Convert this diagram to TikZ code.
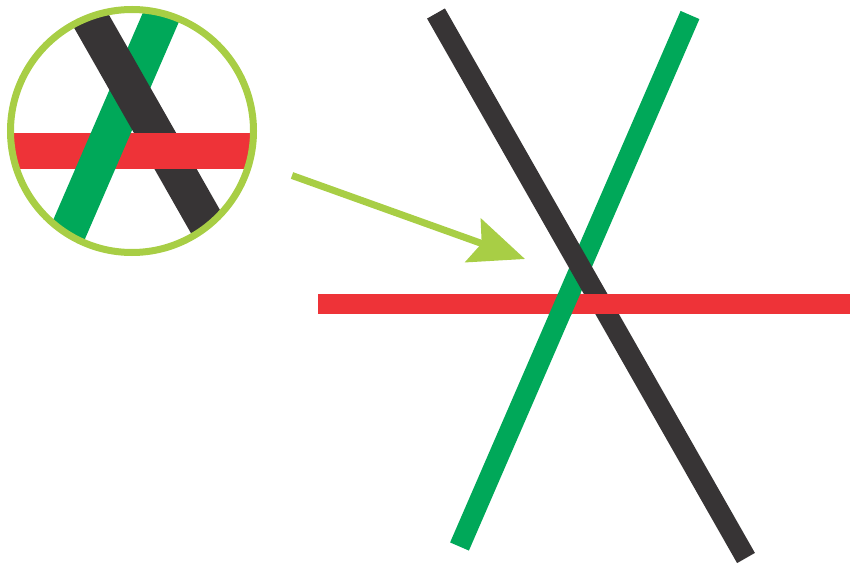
\documentclass[tikz,border=0pt]{standalone}
\usetikzlibrary{arrows.meta}
\definecolor{stickgray}{HTML}{373435}
\definecolor{stickgreen}{HTML}{00A859}
\definecolor{stickred}{HTML}{EE3338}
\definecolor{lensgreen}{HTML}{A8CE45}

\begin{document}
\begin{tikzpicture}[
    x=1pt, y=-1pt,
    bigstick/.style={line width=20.5pt},
    smallstick/.style={line width=36.7pt},
    lens/.style={draw=lensgreen, line width=7pt},
    pointer/.style={-{Stealth[length=55pt, width=46pt, inset=9pt]}, draw=lensgreen, fill=lensgreen, line width=7pt}
]
\useasboundingbox (0,0) rectangle (850,564);

% large view
\coordinate (grayA) at (436,13.5);
\coordinate (grayB) at (746,558);
\coordinate (greenA) at (690,15);
\coordinate (greenB) at (459.5,546.5);
\coordinate (redA) at (318,304);
\coordinate (redB) at (850,304);
\draw[bigstick, stickgreen] (greenA) -- (greenB);
\draw[bigstick, stickgray] (grayA) -- (grayB);
\draw[bigstick, stickred] (redA) -- (redB);
\begin{scope}
  \clip (530,293.5) rectangle (582,314.5);
  \draw[bigstick, stickgreen] (greenA) -- (greenB);
\end{scope}

% magnified view
\coordinate (lens) at (132,131);
\coordinate (sgrayA) at (73.7,-10);
\coordinate (sgrayB) at (238.7,280);
\coordinate (sgreenA) at (172.7,-10);
\coordinate (sgreenB) at (47.2,280);
\coordinate (sredA) at (0,151);
\coordinate (sredB) at (264,151);
\begin{scope}
  \clip (lens) circle (121.5);
  \draw[smallstick, stickgreen] (sgreenA) -- (sgreenB);
  \draw[smallstick, stickgray] (sgrayA) -- (sgrayB);
  \draw[smallstick, stickred] (sredA) -- (sredB);
  \begin{scope}
    \clip (0,132.6) rectangle (132.4,169.4);
    \draw[smallstick, stickgreen] (sgreenA) -- (sgreenB);
  \end{scope}
\end{scope}
\draw[lens] (lens) circle (121.5);

\coordinate (pointerstart) at (292,175.5);
\coordinate (pointertip) at (525,259);
\draw[pointer] (pointerstart) -- (pointertip);
\end{tikzpicture}
\end{document}
